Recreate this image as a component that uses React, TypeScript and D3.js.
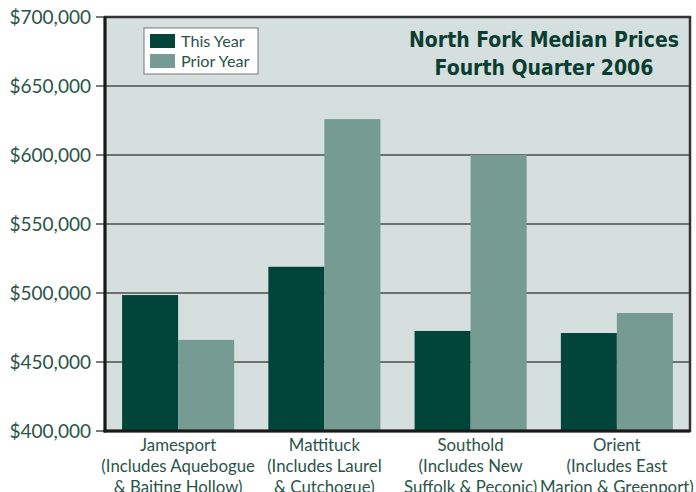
import React from 'react';
import * as d3 from 'd3';

const towns = ['Jamesport', 'Mattituck', 'Southold', 'Orient'];
const townNotes = [
  ['(Includes Aquebogue', '& Baiting Hollow)'],
  ['(Includes Laurel', '& Cutchogue)'],
  ['(Includes New', 'Suffolk & Peconic)'],
  ['(Includes East', 'Marion & Greenport)'],
];
const thisYear = [498500, 519000, 472500, 471000];
const priorYear = [466000, 626000, 600000, 485500];
const seriesNames = ['This Year', 'Prior Year'];
const yTicks = [400000, 450000, 500000, 550000, 600000, 650000, 700000];

const colors = ['#00443a', '#769b93'];
const textColor = '#2a5449';

export default function App() {
  const width = 696;
  const height = 492;
  const margin = { top: 17, right: 6, bottom: 61, left: 105 };
  const innerW = width - margin.left - margin.right;
  const innerH = height - margin.top - margin.bottom;

  const x = d3.scaleBand().domain(towns).range([0, innerW]).paddingInner(0.234).paddingOuter(0.117);
  const x1 = d3.scaleBand().domain(seriesNames).range([0, x.bandwidth()]);
  const y = d3.scaleLinear().domain([400000, 700000]).range([innerH, 0]);
  const fmt = (v: number) => '$' + d3.format(',')(v);

  const series = [thisYear, priorYear];

  return (
    <svg width={width} height={height} style={{ position: 'absolute', left: 0, top: 0 }}
      fontFamily="Lato, 'Open Sans', sans-serif">
      <g transform={`translate(${margin.left},${margin.top})`}>
        <rect x={0} y={0} width={innerW} height={innerH} fill="#d5dfde" />
        {yTicks.map((t) => (
          <g key={t} transform={`translate(0,${y(t)})`}>
            {t > 400000 && t < 700000 && (
              <line x1={0} x2={innerW} stroke="#707272" strokeWidth={2} />
            )}
            <line x1={-9} x2={0} stroke="#222" strokeWidth={1.2} />
            <text x={-14} dy="0.35em" textAnchor="end" fontSize={19} fill={textColor}>
              {fmt(t)}
            </text>
          </g>
        ))}
        {towns.map((town, i) => (
          <g key={town} transform={`translate(${x(town)},0)`}>
            {series.map((s, j) => (
              <rect
                key={j}
                x={x1(seriesNames[j])}
                y={y(s[i])}
                width={x1.bandwidth()}
                height={innerH - y(s[i])}
                fill={colors[j]}
              />
            ))}
            <text x={x.bandwidth() / 2} y={innerH + 20} textAnchor="middle" fontSize={16.8} fill={textColor}>
              <tspan x={x.bandwidth() / 2}>{town}</tspan>
              <tspan x={x.bandwidth() / 2} dy={21}>{townNotes[i][0]}</tspan>
              <tspan x={x.bandwidth() / 2} dy={21}>{townNotes[i][1]}</tspan>
            </text>
          </g>
        ))}
        <rect x={0} y={0} width={innerW} height={innerH} fill="none" stroke="#333" strokeWidth={2.5} />
        <line x1={0} x2={0} y1={0} y2={innerH + 1.5} stroke="#1a1a1a" strokeWidth={3} />
        <line x1={-1.5} x2={innerW} y1={innerH} y2={innerH} stroke="#1a1a1a" strokeWidth={3} />

        <g transform="translate(39,11)">
          <rect x={0} y={0} width={114} height={46} fill="#fff" stroke="#777" strokeWidth={1} />
          {seriesNames.map((n, j) => (
            <g key={n} transform={`translate(6,${6 + j * 20})`}>
              <rect x={0} y={0} width={25} height={14} fill={colors[j]} />
              <text x={31} y={7} dy="0.35em" fontSize={16.2} fill={textColor}>{n}</text>
            </g>
          ))}
        </g>

        <text x={439} y={30} textAnchor="middle" fontSize={21} fontWeight="bold" fill="#0b3d32"
          fontFamily="'DejaVu Sans Condensed', 'DejaVu Sans', sans-serif">
          <tspan x={439}>North Fork Median Prices</tspan>
          <tspan x={439} dy={28}>Fourth Quarter 2006</tspan>
        </text>
      </g>
    </svg>
  );
}
